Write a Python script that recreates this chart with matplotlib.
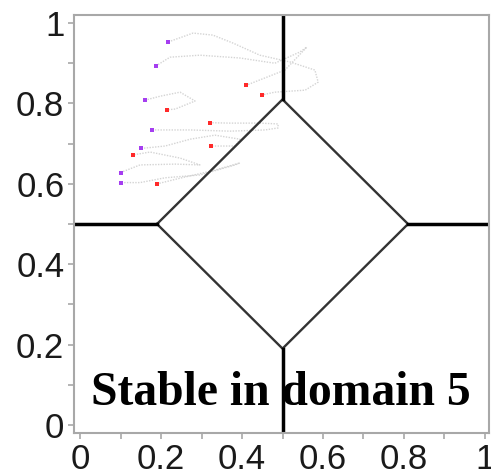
import numpy as np
import matplotlib
matplotlib.use("Agg")
import matplotlib.pyplot as plt
from matplotlib.ticker import MultipleLocator, FuncFormatter

# start (purple) and end (red) points of the trajectories
start_x = [0.218, 0.187, 0.160, 0.178, 0.151, 0.100, 0.102]
start_y = [0.952, 0.893, 0.808, 0.734, 0.688, 0.628, 0.603]
end_x = [0.449, 0.410, 0.214, 0.321, 0.323, 0.131, 0.191]
end_y = [0.821, 0.845, 0.784, 0.752, 0.694, 0.672, 0.600]

# rough waypoints of the faint trajectories
traj_x = [
    [0.218, 0.279, 0.328, 0.378, 0.444, 0.519, 0.580, 0.588, 0.556, 0.481, 0.449],
    [0.187, 0.222, 0.296, 0.395, 0.481, 0.543, 0.560, 0.506, 0.410],
    [0.160, 0.198, 0.247, 0.284, 0.235, 0.214],
    [0.178, 0.272, 0.370, 0.457, 0.489, 0.489, 0.444, 0.370, 0.321],
    [0.151, 0.210, 0.272, 0.333, 0.395, 0.383, 0.323],
    [0.100, 0.148, 0.235, 0.296, 0.247, 0.173, 0.131],
    [0.102, 0.148, 0.210, 0.296, 0.383, 0.395, 0.333, 0.247, 0.191],
]
traj_y = [
    [0.953, 0.975, 0.970, 0.950, 0.920, 0.903, 0.883, 0.853, 0.833, 0.828, 0.821],
    [0.893, 0.915, 0.920, 0.913, 0.900, 0.928, 0.940, 0.883, 0.845],
    [0.808, 0.818, 0.828, 0.806, 0.786, 0.784],
    [0.734, 0.734, 0.731, 0.734, 0.739, 0.749, 0.751, 0.751, 0.752],
    [0.688, 0.694, 0.711, 0.721, 0.711, 0.694, 0.694],
    [0.628, 0.647, 0.649, 0.647, 0.664, 0.679, 0.672],
    [0.603, 0.603, 0.615, 0.622, 0.647, 0.652, 0.634, 0.614, 0.600],
]

# domain boundaries
c = 0.5
r = 0.31
diamond_x = [c - r, c, c + r, c, c - r]
diamond_y = [c, c + r, c, c - r, c]

fig = plt.figure(figsize=(4.91, 4.75), dpi=100)
ax = fig.add_axes([74 / 491, 1 - 433 / 475, 415 / 491, 418 / 475])

for tx, ty in zip(traj_x, traj_y):
    ax.plot(tx, ty, color="#d4d4d4", lw=1.0, linestyle=(0, (1, 1)), zorder=1)

ax.plot(diamond_x, diamond_y, color="#333333", lw=1.7, zorder=2)
ax.plot([-0.03, c - r], [c, c], color="black", lw=2.5, zorder=2)
ax.plot([c + r, 1.03], [c, c], color="black", lw=2.5, zorder=2)
ax.plot([c, c], [c + r, 1.03], color="black", lw=2.5, zorder=2)
ax.plot([c, c], [-0.03, c - r], color="black", lw=2.5, zorder=2)

ax.plot(start_x, start_y, "s", color="#a53ef0", ms=3.3, mew=0, zorder=3)
ax.plot(end_x, end_y, "s", color="#ff2a2a", ms=3.3, mew=0, zorder=3)

ax.text(0.028, 0.05, "Stable in domain 5", fontsize=34.3, fontweight="bold",
        family="Liberation Serif", ha="left", va="baseline", zorder=4)

ax.set_xlim(-0.015, 1.01)
ax.set_ylim(-0.02, 1.02)

def fmt(v, pos):
    return "{:g}".format(round(v, 1))

for axis in (ax.xaxis, ax.yaxis):
    axis.set_major_locator(MultipleLocator(0.2))
    axis.set_minor_locator(MultipleLocator(0.1))
    axis.set_major_formatter(FuncFormatter(fmt))

ax.tick_params(which="both", direction="out", length=4, width=1.2,
               color="#a8a8a8", labelsize=25, labelcolor="#1a1a1a", pad=3)
for lab in ax.get_xticklabels() + ax.get_yticklabels():
    lab.set_family("Liberation Sans")

for s in ax.spines.values():
    s.set_color("#a8a8a8")
    s.set_linewidth(1.5)

fig.savefig("out.png", dpi=100)
